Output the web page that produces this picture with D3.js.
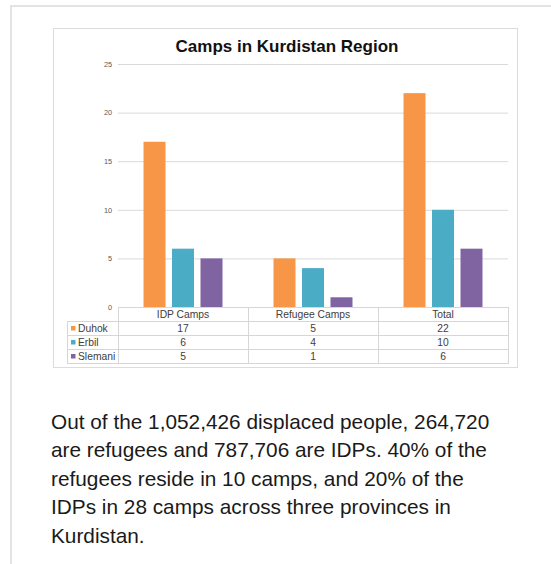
<!DOCTYPE html>
<html>
<head>
<meta charset="utf-8">
<script src="https://cdn.jsdelivr.net/npm/d3@7/dist/d3.min.js"></script>
<style>
  html, body { margin: 0; padding: 0; background: #fff; }
  body { width: 551px; height: 564px; overflow: hidden; position: relative; font-family: "Liberation Sans", Arial, sans-serif; }
  #card { position: absolute; left: 10px; top: 5px; width: 600px; height: 600px; border-top: 2px solid #e3e3e3; border-left: 2px solid #e3e3e3; }
  #chart { position: absolute; left: 0; top: 0; }
  #desc { position: absolute; left: 51px; top: 408px; width: 480px; font-size: 20.8px; line-height: 28.4px; color: #1a1a1a; margin: 0; }
</style>
</head>
<body>
<div id="card"></div>
<svg id="chart" width="551" height="400"></svg>
<p id="desc">Out of the 1,052,426 displaced people, 264,720<br>are refugees and 787,706 are IDPs. 40% of the<br>refugees reside in 10 camps, and 20% of the<br>IDPs in 28 camps across three provinces in<br>Kurdistan.</p>
<script>
const categories = ["IDP Camps", "Refugee Camps", "Total"];
const seriesNames = ["Duhok", "Erbil", "Slemani"];
const duhok = [17, 5, 22];
const erbil = [6, 4, 10];
const slemani = [5, 1, 6];
const yTicks = [0, 5, 10, 15, 20, 25];
const colors = ["#F79646", "#4BACC6", "#8064A2"];
const title = "Camps in Kurdistan Region";

const seriesValues = [duhok, erbil, slemani];

const svg = d3.select("#chart");

// chart frame
svg.append("rect").attr("x", 53.5).attr("y", 28.5).attr("width", 464).attr("height", 339)
  .attr("fill", "#fff").attr("stroke", "#dcdcdc").attr("stroke-width", 1);

svg.append("text").attr("x", 287).attr("y", 52).attr("text-anchor", "middle")
  .attr("font-size", "17px").attr("font-weight", "bold").attr("fill", "#111")
  .attr("font-family", "Liberation Sans, Arial, sans-serif")
  .text(title);

const plotLeft = 118, plotRight = 508, plotTop = 64, plotBottom = 307;

const x0 = d3.scaleBand().domain(categories).range([plotLeft, plotRight]).paddingInner(0).paddingOuter(0);
const x1 = d3.scaleBand().domain(seriesNames).range([0, x0.bandwidth()]).paddingInner(0.228).paddingOuter(0.895);
const y = d3.scaleLinear().domain([0, 25]).range([plotBottom, plotTop]);

const yAxis = svg.append("g").attr("transform", `translate(${plotLeft},0)`)
  .call(d3.axisLeft(y).tickValues(yTicks).tickSize(-(plotRight - plotLeft)).tickPadding(6));
yAxis.select(".domain").remove();
yAxis.selectAll(".tick line").attr("stroke", "#d9d9d9").attr("stroke-width", 1);
yAxis.selectAll(".tick").filter(d => d === 0).select("line").remove();
yAxis.selectAll(".tick text").attr("fill", "#595959").attr("font-size", "7.3px")
  .attr("font-family", "Liberation Sans, Arial, sans-serif");

// bars
const groups = svg.append("g").selectAll("g").data(categories).join("g")
  .attr("transform", d => `translate(${x0(d)},0)`);
groups.selectAll("rect").data((c, i) => seriesNames.map((s, j) => ({ s, j, v: seriesValues[j][i] })))
  .join("rect")
  .attr("x", d => x1(d.s)).attr("width", x1.bandwidth())
  .attr("y", d => y(d.v)).attr("height", d => y(0) - y(d.v))
  .attr("fill", d => colors[d.j]);

// data table
const rowH = 14;
const tableTop = plotBottom;
const legendLeft = 67;
const tg = svg.append("g").attr("font-family", "Liberation Sans, Arial, sans-serif");
const lineColor = "#d6d6d6";

// header row
tg.append("rect").attr("x", plotLeft + 0.5).attr("y", tableTop + 0.5)
  .attr("width", plotRight - plotLeft).attr("height", rowH).attr("fill", "none").attr("stroke", lineColor);
categories.forEach(c => {
  tg.append("line").attr("x1", x0(c) + 0.5).attr("x2", x0(c) + 0.5)
    .attr("y1", tableTop).attr("y2", tableTop + rowH * 4).attr("stroke", lineColor);
  tg.append("text").attr("x", x0(c) + x0.bandwidth() / 2).attr("y", tableTop + rowH - 3.3)
    .attr("text-anchor", "middle").attr("font-size", "10.3px").attr("fill", "#404040").text(c);
});
tg.append("line").attr("x1", plotRight + 0.5).attr("x2", plotRight + 0.5)
  .attr("y1", tableTop).attr("y2", tableTop + rowH * 4).attr("stroke", lineColor);

seriesNames.forEach((s, j) => {
  const ry = tableTop + rowH * (j + 1);
  tg.append("rect").attr("x", legendLeft + 0.5).attr("y", ry + 0.5)
    .attr("width", plotRight - legendLeft).attr("height", rowH).attr("fill", "none").attr("stroke", lineColor);
  tg.append("rect").attr("x", legendLeft + 4).attr("y", ry + 5).attr("width", 4.5).attr("height", 4.5)
    .attr("fill", colors[j]);
  tg.append("text").attr("x", legendLeft + 11).attr("y", ry + rowH - 3.2)
    .attr("font-size", "10.3px").attr("fill", "#404040").text(s);
  categories.forEach((c, i) => {
    tg.append("text").attr("x", x0(c) + x0.bandwidth() / 2).attr("y", ry + rowH - 3.2)
      .attr("text-anchor", "middle").attr("font-size", "10.3px").attr("fill", "#404040")
      .text(seriesValues[j][i]);
  });
});
tg.append("line").attr("x1", plotLeft + 0.5).attr("x2", plotLeft + 0.5)
  .attr("y1", tableTop).attr("y2", tableTop + rowH * 4).attr("stroke", lineColor);
</script>
</body>
</html>
